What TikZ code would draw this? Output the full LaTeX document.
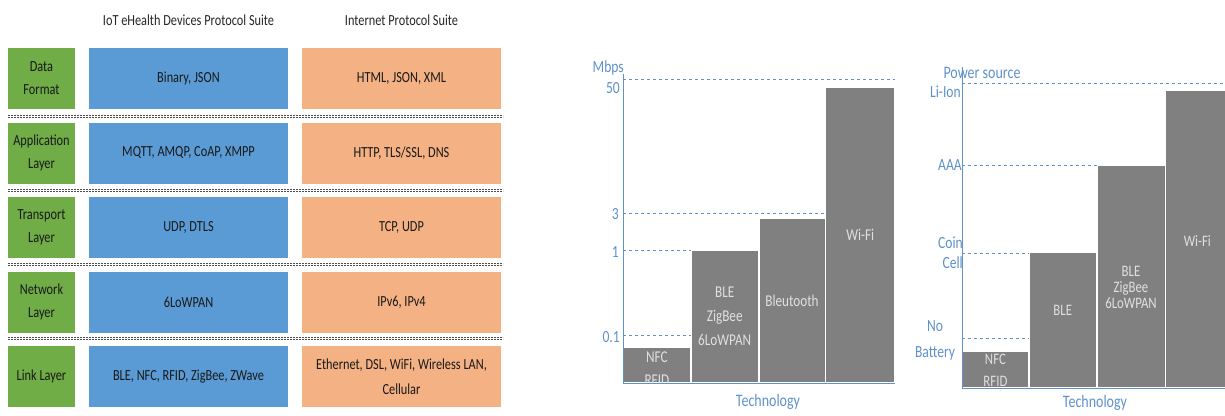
\documentclass[tikz,border=0pt]{standalone}
\usepackage{fontspec}
\setmainfont{Carlito}[FakeStretch=0.8]
\usetikzlibrary{positioning}
\definecolor{layergreen}{RGB}{112,173,71}
\definecolor{iotblue}{RGB}{91,155,213}
\definecolor{netorange}{RGB}{244,177,131}
\definecolor{axisblue}{RGB}{95,145,202}
\definecolor{bargray}{RGB}{128,128,128}

\begin{document}
\begin{tikzpicture}[x=1pt,y=-1pt,
    layerbox/.style={fill=layergreen,minimum width=67pt,minimum height=61pt,inner sep=0pt,align=center,text=black!90,font=\fontsize{15.4}{23}\selectfont},
    iotbox/.style={layerbox,fill=iotblue,minimum width=199pt},
    netbox/.style={layerbox,fill=netorange,minimum width=199pt},
    suite/.style={text=black!85,font=\fontsize{15.4}{17}\selectfont},
    sepline/.style={draw=black!70,line width=0.7pt,double=white,double distance=0.7pt,dash pattern=on 2pt off 1pt},
    bar/.style={fill=bargray,draw=white,line width=0.8pt,minimum width=67pt,inner sep=0pt,anchor=south west},
    barlabel/.style={text=white!88!black,align=center,font=\fontsize{16.5}{24}\selectfont},
    axis/.style={draw=axisblue,line width=1pt},
    level/.style={draw=axisblue,dashed,line width=0.8pt},
    ticklabel/.style={text=axisblue,align=right,anchor=east,inner sep=1pt,font=\fontsize{17}{20}\selectfont},
    axislabel/.style={text=axisblue,font=\fontsize{17.5}{19}\selectfont}]
\useasboundingbox (0,0) rectangle (1225,415);

\node[layerbox] (fmt) at (41.5,78.5) {Data\\Format};
\node[iotbox] (fmtiot) at (188.5,78.5) {Binary, JSON};
\node[netbox] (fmtnet) at (401.5,78.5) {HTML, JSON, XML};
\node[layerbox] (app) at (41.5,153) {Application\\Layer};
\node[iotbox] (appiot) at (188.5,153) {MQTT, AMQP, CoAP, XMPP};
\node[netbox] (appnet) at (401.5,153) {HTTP, TLS/SSL, DNS};
\node[layerbox] (trn) at (41.5,227.5) {Transport\\Layer};
\node[iotbox] (trniot) at (188.5,227.5) {UDP, DTLS};
\node[netbox] (trnnet) at (401.5,227.5) {TCP, UDP};
\node[layerbox] (net) at (41.5,302) {Network\\Layer};
\node[iotbox] (netiot) at (188.5,302) {6LoWPAN};
\node[netbox] (netnet) at (401.5,302) {IPv6, IPv4};
\node[layerbox] (lnk) at (41.5,376.5) {Link Layer};
\node[iotbox] (lnkiot) at (188.5,376.5) {BLE, NFC, RFID, ZigBee, ZWave};
\node[netbox,font=\fontsize{15.4}{25}\selectfont] (lnknet) at (401.5,376.5) {Ethernet, DSL, WiFi, Wireless LAN,\\Cellular};

\node[suite, above=19pt of fmtiot] (iothead) {IoT eHealth Devices Protocol Suite};
\node[suite, above=19pt of fmtnet] (nethead) {Internet Protocol Suite};

\draw[sepline] (8,116.5) -- (503,116.5);
\draw[sepline] (8,190.5) -- (503,190.5);
\draw[sepline] (8,264.5) -- (503,264.5);
\draw[sepline] (8,338.5) -- (503,338.5);

% data rate
\coordinate (rateO) at (623,383);
\coordinate (ratetop) at (623,74);
\node[bar,minimum height=35pt] (rnfc) at (rateO) {};
\node[bar,minimum height=132pt] (rble) at (rnfc.south east) {};
\node[bar,minimum height=164pt,minimum width=66pt] (rbt) at (rble.south east) {};
\node[bar,minimum height=295pt,minimum width=69pt] (rwifi) at (rbt.south east) {};
\node[barlabel] (rblet) at (rble.center) {BLE\\ZigBee\\6LoWPAN};
\node[barlabel] (rbtt) at (rbt.center) {Bleutooth};
\node[barlabel] (rwifit) at (rwifi.center) {Wi-Fi};
\begin{scope}
  \clip (rnfc.south west) rectangle (rnfc.north east);
  \node[barlabel,font=\fontsize{16.5}{23}\selectfont] (rnfct) at ([yshift=-4pt]rnfc.center) {NFC\\RFID};
\end{scope}
\draw[level] (rateO |- 0,79) -- (rwifi.east |- 0,79);
\draw[level] (rateO |- 0,213) -- (rbt.east |- 0,213);
\draw[level] (rateO |- 0,250) -- (rble.west |- 0,250);
\draw[level] (rateO |- 0,335) -- (rnfc.east |- 0,335);
\draw[axis] (ratetop) -- (rateO) -- (rwifi.south east);
\node[ticklabel] (rmbps) at (625,68) {Mbps};
\node[ticklabel] (r50) at (621,88) {50};
\node[ticklabel] (r3) at (620,214) {3};
\node[ticklabel] (r1) at (620,252) {1};
\node[ticklabel] (r01) at (621,337) {0.1};
\node[axislabel] (rtech) at (768,402) {Technology};

% power source
\coordinate (powO) at (962,388);
\coordinate (powtop) at (962,67);
\node[bar,minimum height=36pt,minimum width=66pt] (pnfc) at (powO) {};
\node[bar,minimum height=135pt] (pble) at (pnfc.south east) {};
\node[bar,minimum height=222pt,minimum width=68pt] (pzig) at (pble.south east) {};
\node[bar,minimum height=297pt,minimum width=63pt] (pwifi) at (pzig.south east) {};
\node[barlabel,font=\fontsize{16}{16}\selectfont] (pblet) at ([yshift=10pt]pble.center) {BLE};
\node[barlabel,font=\fontsize{16}{16}\selectfont] (pzigt) at ([yshift=-11pt]pzig.center) {BLE\\ZigBee\\6LoWPAN};
\node[barlabel,font=\fontsize{16}{16}\selectfont] (pwifit) at ([yshift=-2pt]pwifi.center) {Wi-Fi};
\begin{scope}
  \clip (pnfc.south west) rectangle (pnfc.north east);
  \node[barlabel,font=\fontsize{16}{22}\selectfont] (pnfct) at ([yshift=-1pt]pnfc.center) {NFC\\RFID};
\end{scope}
\draw[level] (powO |- 0,83) -- (pwifi.east |- 0,83);
\draw[level] (powO |- 0,165) -- (pzig.west |- 0,165);
\draw[level] (powO |- 0,253) -- (pble.west |- 0,253);
\draw[level] (powO |- 0,338) -- (pble.west |- 0,338);
\draw[axis] (powtop) -- (powO) -- (pwifi.south east);
\node[axislabel] (ppower) at (982,73) {Power source};
\node[ticklabel] (pliion) at (962,92) {Li-Ion};
\node[ticklabel] (paaa) at (963,165) {AAA};
\node[ticklabel] (pcoin) at (964,253) {Coin\\Cell};
\node[ticklabel,align=center,anchor=center,font=\fontsize{17}{26}\selectfont] (pnobat) at (935,340) {No\\Battery};
\node[axislabel] (ptech) at (1095,403) {Technology};
\end{tikzpicture}
\end{document}
